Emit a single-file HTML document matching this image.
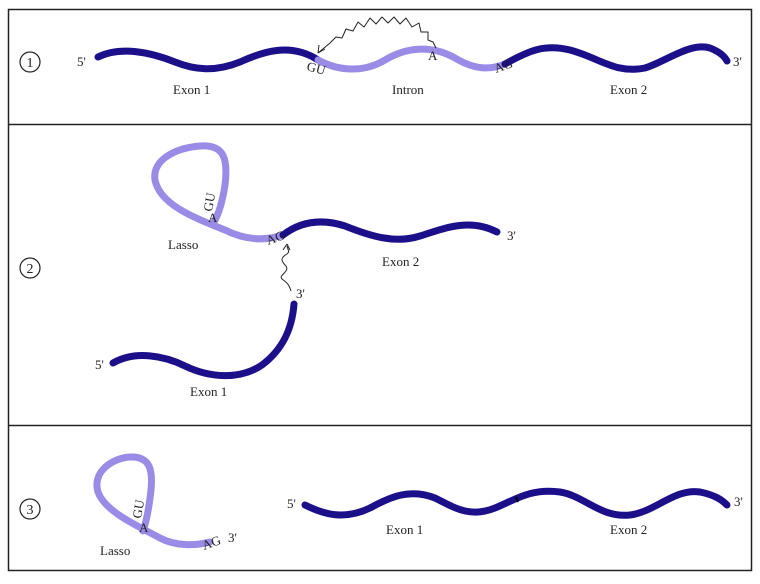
<!DOCTYPE html>
<html><head><style>
body{margin:0;background:#fff;}
svg text{font-family:"Liberation Serif",serif;fill:#222;}
</style></head><body>
<svg width="760" height="579" viewBox="0 0 760 579" xmlns="http://www.w3.org/2000/svg">
<rect x="0" y="0" width="760" height="579" fill="#fff"/>
<rect x="8.5" y="9.5" width="743" height="561" fill="none" stroke="#222" stroke-width="1.5"/>
<line x1="8" y1="124.5" x2="752" y2="124.5" stroke="#222" stroke-width="1.5"/>
<line x1="8" y1="425.5" x2="752" y2="425.5" stroke="#222" stroke-width="1.5"/>

<g fill="none" stroke-linecap="round" stroke-width="7">
<path d="M98,57 C120,46 150,52 175,62 C195,70 215,72 240,62 C262,52 290,42 318,60" stroke="#1c108a"/>
<path d="M318,60 C340,72 365,72 385,60 C405,48 430,44 455,58 C475,70 490,70 505,64" stroke="#9a8ce6"/>
<path d="M505,64 C530,50 545,44 570,50 C600,58 615,74 645,68 C665,62 690,42 710,48 C720,52 725,57 727,61" stroke="#1c108a"/>
<path d="M283,235 C265,241 245,240 225,230 C195,218 160,205 155,180 C152,160 175,148 200,146 C225,144 228,160 225,185 C222,205 218,215 214,222" stroke="#9a8ce6"/>
<path d="M283,235 C300,222 320,218 345,226 C370,236 395,244 420,236 C445,228 470,218 497,232" stroke="#1c108a"/>
<path d="M113,363 C135,350 165,356 185,366 C210,378 240,380 262,365 C282,350 292,330 294,304" stroke="#1c108a"/>
<path d="M210,542 C195,546 175,546 160,538 C140,527 105,512 98,492 C92,472 112,458 130,457 C150,456 153,470 151,490 C149,508 147,520 143,531" stroke="#9a8ce6"/>
<path d="M305,505 C325,515 345,520 370,508 C390,497 410,488 435,498 C455,508 470,518 495,508 C515,500 530,488 560,492 C585,496 600,518 630,515 C655,512 675,488 700,492 C715,495 722,500 727,505" stroke="#1c108a"/>
</g>

<g fill="none" stroke="#222" stroke-width="1" stroke-linejoin="round">
<polyline points="436,48 433,42 428,40 428,32 421,32 419,23 412,27 406,18 400,24 394,17 388,23 382,17 376,24 370,18 364,27 358,22 353,31 346,29 342,38 336,37 330,43 318,53"/>
<path d="M318,53 l1,-8 M318,53 l7,-4"/>
<path d="M291,291 C289,284 286,282 282,279 C278,275 290,272 286,266 C281,261 280,258 287,254 C290,252 288,250 287,246"/>
<path d="M287,244 l-4,6 M287,244 l3,6"/>
</g>

<g font-size="13">
<circle cx="30" cy="62" r="10" fill="none" stroke="#222" stroke-width="1.2"/>
<text x="30" y="67" text-anchor="middle" font-size="14">1</text>
<circle cx="30" cy="268" r="10" fill="none" stroke="#222" stroke-width="1.2"/>
<text x="30" y="273" text-anchor="middle" font-size="14">2</text>
<circle cx="30" cy="509" r="10" fill="none" stroke="#222" stroke-width="1.2"/>
<text x="30" y="514" text-anchor="middle" font-size="14">3</text>

<text x="77" y="66">5'</text>
<text x="733" y="66">3'</text>
<text x="173" y="94">Exon 1</text>
<text x="392" y="94">Intron</text>
<text x="610" y="94">Exon 2</text>
<text x="306" y="70" transform="rotate(15 306 70)">GU</text>
<text x="428" y="60">A</text>
<text x="496" y="73" transform="rotate(-20 496 73)">AG</text>

<text x="168" y="249">Lasso</text>
<text x="382" y="266">Exon 2</text>
<text x="507" y="240">3'</text>
<text x="268" y="245" transform="rotate(-20 268 245)">AG</text>
<text x="212" y="212" transform="rotate(-80 212 212)">GU</text>
<text x="208" y="222">A</text>
<text x="296" y="298">3'</text>
<text x="95" y="369">5'</text>
<text x="190" y="396">Exon 1</text>

<text x="100" y="555">Lasso</text>
<text x="204" y="550" transform="rotate(-20 204 550)">AG</text>
<text x="228" y="542">3'</text>
<text x="141" y="519" transform="rotate(-80 141 519)">GU</text>
<text x="139" y="532">A</text>
<text x="287" y="508">5'</text>
<text x="734" y="506">3'</text>
<text x="386" y="534">Exon 1</text>
<text x="610" y="534">Exon 2</text>
</g>
<line x1="516" y1="497" x2="518" y2="502" stroke="#000" stroke-width="2"/>
</svg>
</body></html>
